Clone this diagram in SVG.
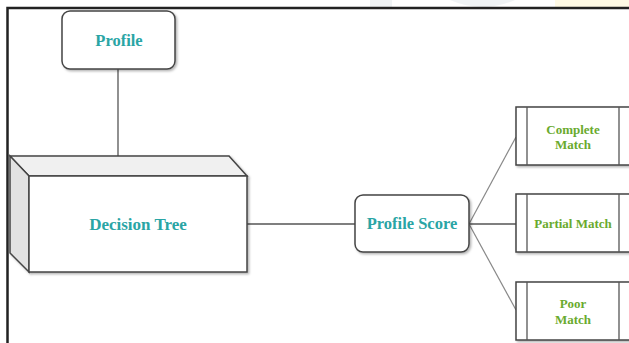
<svg xmlns="http://www.w3.org/2000/svg" width="629" height="343" viewBox="0 0 629 343">
<defs>
<style>
.box{fill:#ffffff;stroke:#444444;stroke-width:1.5}
.ln{stroke:#555555;stroke-width:1.3;fill:none}
.lnl{stroke:#888888;stroke-width:1.2;fill:none}
.tt{font-weight:bold;fill:#2aa5a5;text-anchor:middle}
.tg{font-weight:bold;fill:#6aaa2e;text-anchor:middle;font-size:13px}
</style>
<filter id="sh" x="-10%" y="-10%" width="130%" height="130%">
<feDropShadow dx="1.5" dy="1.5" stdDeviation="1" flood-color="#000000" flood-opacity="0.3"/>
</filter>
</defs>
<rect x="0" y="0" width="629" height="343" fill="#ffffff"/>
<g id="watermark" opacity="0.5">
<rect x="370" y="0" width="22" height="7" fill="#e3e8ec"/>
<path d="M450,0 Q482,14 515,0 Z" fill="#e3e8ec"/>
<rect x="555" y="0" width="74" height="7" fill="#fff6cc"/>
</g>
<g id="frame">
<path d="M629,8 H7.5 V343" fill="none" stroke="#222222" stroke-width="2.5"/>
</g>
<g id="connectors">
<line class="ln" x1="118" y1="69" x2="118" y2="156"/>
<line class="ln" x1="247" y1="224" x2="355" y2="224"/>
<line class="lnl" x1="469" y1="224" x2="516" y2="137"/>
<line class="ln" x1="469" y1="224" x2="516" y2="224"/>
<line class="lnl" x1="469" y1="224" x2="516" y2="310"/>
</g>
<g font-family="Liberation Serif, DejaVu Serif, Times New Roman, serif">
<g id="profile">
<rect class="box" x="62" y="11" width="113" height="58" rx="8" filter="url(#sh)"/>
<text class="tt" x="119" y="46" font-size="16.5">Profile</text>
</g>
<g id="decision-tree">
<g filter="url(#sh)">
<polygon points="10,156 229,156 247,176 29,176" fill="#f0f0f0" stroke="#444444" stroke-width="1.5"/>
<polygon points="10,156 29,176 29,272 10,253" fill="#e2e2e2" stroke="#444444" stroke-width="1.5"/>
<rect class="box" x="29" y="176" width="218" height="96"/>
</g>
<text class="tt" x="138" y="230" font-size="17">Decision Tree</text>
</g>
<g id="profile-score">
<rect class="box" x="355" y="195" width="114" height="57" rx="8" filter="url(#sh)"/>
<text class="tt" x="412" y="229" font-size="16.5">Profile Score</text>
</g>
<g id="complete-match">
<rect class="box" x="516" y="107" width="120" height="58" filter="url(#sh)"/>
<line class="ln" x1="527" y1="107" x2="527" y2="165"/>
<line class="ln" x1="619" y1="107" x2="619" y2="165"/>
<text class="tg" x="573" y="134">Complete</text>
<text class="tg" x="573" y="149">Match</text>
</g>
<g id="partial-match">
<rect class="box" x="516" y="194" width="120" height="58" filter="url(#sh)"/>
<line class="ln" x1="527" y1="194" x2="527" y2="252"/>
<line class="ln" x1="619" y1="194" x2="619" y2="252"/>
<text class="tg" x="573" y="228">Partial Match</text>
</g>
<g id="poor-match">
<rect class="box" x="516" y="282" width="120" height="58" filter="url(#sh)"/>
<line class="ln" x1="527" y1="282" x2="527" y2="340"/>
<line class="ln" x1="619" y1="282" x2="619" y2="340"/>
<text class="tg" x="573" y="308">Poor</text>
<text class="tg" x="573" y="324">Match</text>
</g>
</g>
</svg>
